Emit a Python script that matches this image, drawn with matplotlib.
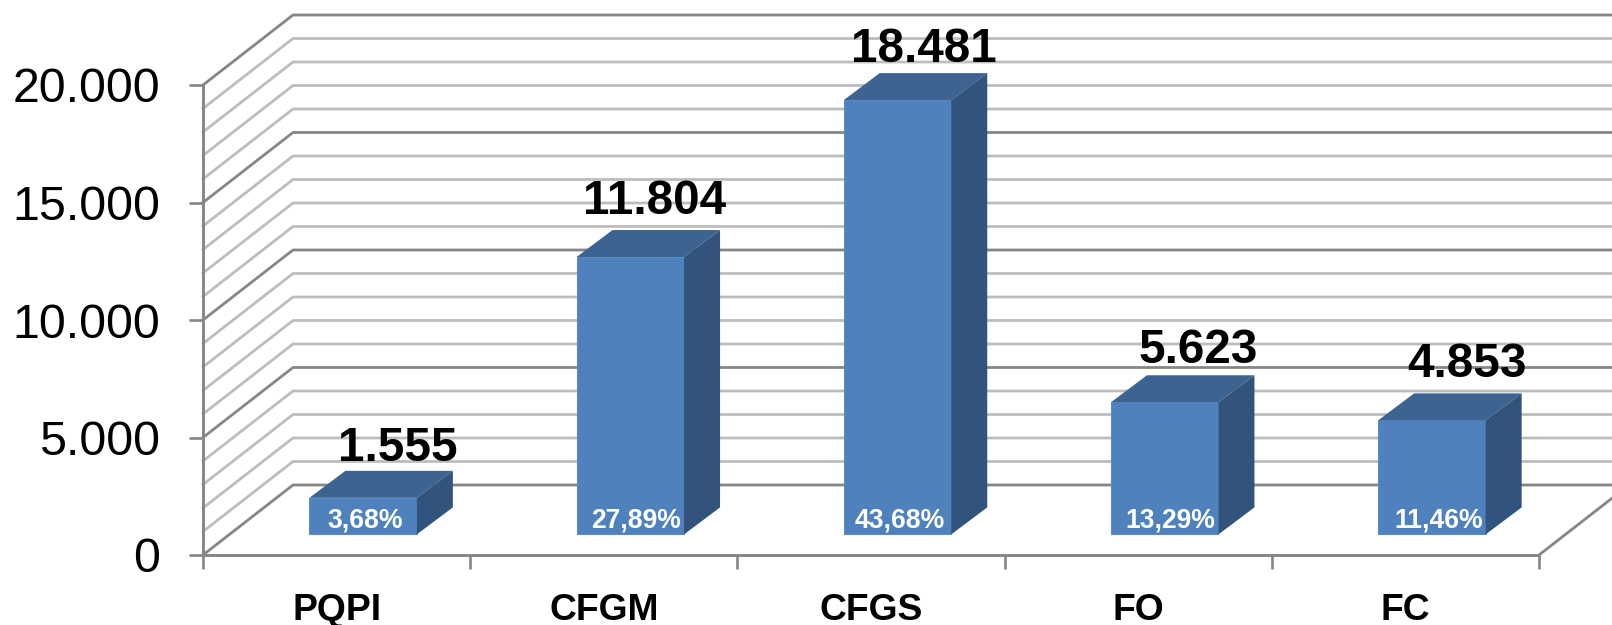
import matplotlib
matplotlib.use("Agg")
import matplotlib.pyplot as plt
from matplotlib.patches import Polygon

categories = ["PQPI", "CFGM", "CFGS", "FO", "FC"]
values = [1555, 11804, 18481, 5623, 4853]
value_labels = ["1.555", "11.804", "18.481", "5.623", "4.853"]
percent_labels = ["3,68%", "27,89%", "43,68%", "13,29%", "11,46%"]
y_ticks = [0, 5000, 10000, 15000, 20000]
y_tick_labels = ["0", "5.000", "10.000", "15.000", "20.000"]
minor_ticks = [v for v in range(0, 20001, 1000)]

W, H = 1612, 625
plt.rcParams["font.family"] = ["Liberation Sans", "DejaVu Sans"]
fig = plt.figure(figsize=(W / 100, H / 100), dpi=100)
L, R, B, T = 203, 1539, 555, 85
ax = fig.add_axes([L / W, 1 - B / H, (R - L) / W, (B - T) / H])
ax.set_xlim(0, 5)
ax.set_ylim(0, 20000)
ax.patch.set_alpha(0)

px = 5 / (R - L)            # data x per pixel
py = 20000 / (B - T)        # data y per pixel
wall_dx, wall_dy = 90 * px, 70 * py
major_c, minor_c = "#868686", "#bdbdbd"

# walls / grid
for v in minor_ticks:
    major = v % 5000 == 0
    c = major_c if major else minor_c
    z = 1.2 if major else 1
    ax.plot([0, wall_dx, 5 + wall_dx], [v, v + wall_dy, v + wall_dy],
            color=c, lw=2.0, clip_on=False, zorder=z, solid_joinstyle="round")
ax.plot([5, 5 + wall_dx], [0, wall_dy], color=major_c, lw=2.0, clip_on=False, zorder=1.2)

# 3-D bars
off_x, off_y = 26.5 * px, 20.6 * py
width = 107.5 * px
depth_x, depth_y = 36 * px, 27 * py
front_c, top_c, side_c = "#4f81bd", "#3d6391", "#32547c"
for i, v in enumerate(values):
    x0 = i + 0.5 + off_x - width / 2
    x1 = x0 + width
    y0 = off_y
    y1 = off_y + v
    ax.bar(x0, v, width=width, bottom=y0, align="edge", color=front_c, zorder=3,
           edgecolor="#5c8cc6", linewidth=0.8, clip_on=False)
    ax.add_patch(Polygon([(x0, y1), (x1, y1), (x1 + depth_x, y1 + depth_y), (x0 + depth_x, y1 + depth_y)],
                         closed=True, facecolor=top_c, edgecolor="none", zorder=3, clip_on=False))
    ax.add_patch(Polygon([(x1, y0), (x1 + depth_x, y0 + depth_y), (x1 + depth_x, y1 + depth_y), (x1, y1)],
                         closed=True, facecolor=side_c, edgecolor="none", zorder=3, clip_on=False))

# value labels
val_offsets = [(61, 54.5), (51, 61), (53, 56), (60, 57), (62, 61)]
for i, (v, s, (dx, dy)) in enumerate(zip(values, value_labels, val_offsets)):
    ax.annotate(s, (i + 0.5, v), xytext=(dx * 0.72, (dy + 20.4) * 0.72), textcoords="offset points",
                ha="center", va="center_baseline", fontsize=34.3, fontweight="bold", color="black",
                zorder=6, annotation_clip=False)

# percent labels (fixed height on front of the bars)
pct_dx = [28.5, 32, 28.5, 32, 33]
for i, (s, dx) in enumerate(zip(percent_labels, pct_dx)):
    ax.annotate(s, (i + 0.5, 0), xytext=(dx * 0.72, 38 * 0.72), textcoords="offset points",
                ha="center", va="center_baseline", fontsize=19.1, fontweight="bold", color="white",
                zorder=6, annotation_clip=False)

# axes
for s in ["top", "right"]:
    ax.spines[s].set_visible(False)
for s in ["left", "bottom"]:
    ax.spines[s].set_color(major_c)
    ax.spines[s].set_linewidth(2.1)
    ax.spines[s].set_zorder(2)
ax.set_yticks(y_ticks)
ax.set_yticklabels(y_tick_labels, fontsize=34.8, color="black")
ax.tick_params(axis="y", length=10, width=1.9, color=major_c, pad=21)
ax.set_xticks(range(6))
ax.set_xticklabels([""] * 6)
ax.tick_params(axis="x", length=10, width=1.9, color=major_c)
for i, c in enumerate(categories):
    ax.annotate(c, (i + 0.5, 0), xytext=(0, -51.5 * 0.72), textcoords="offset points",
                ha="center", va="center_baseline", fontsize=26.8, fontweight="bold", color="black",
                annotation_clip=False)

fig.savefig("out.png", dpi=100, facecolor="white")
